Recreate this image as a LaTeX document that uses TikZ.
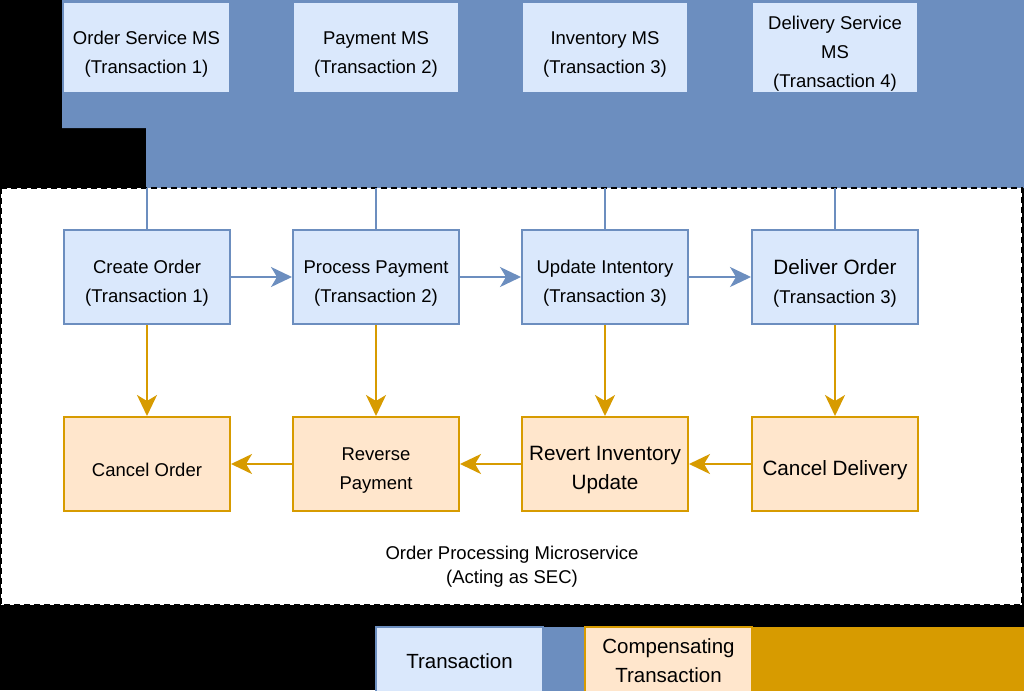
\documentclass[tikz,border=0pt]{standalone}
\usepackage{fontspec}
\setmainfont{Liberation Sans}
\usetikzlibrary{arrows.meta}
\definecolor{bstroke}{HTML}{6C8EBF}
\definecolor{bfill}{HTML}{DAE8FC}
\definecolor{ostroke}{HTML}{D79B00}
\definecolor{ofill}{HTML}{FFE6CC}
\newcommand{\mystrut}{\rule{0pt}{25.5pt}}
\newcommand{\mytopstrut}{\rule{0pt}{27.5pt}}
\newcommand{\mybigstrut}{\rule{0pt}{27.1pt}}
\tikzset{
  basebox/.style={line width=2pt, minimum width=166pt, minimum height=94pt, align=center, inner sep=0pt, text=black, font=\fontsize{18.5}{29}\selectfont},
  tbox/.style={basebox, draw=bstroke, fill=bfill},
  cbox/.style={basebox, draw=ostroke, fill=ofill},
  bigtxt/.style={font=\fontsize{20.7}{29}\selectfont},
  barrow/.style={draw=bstroke, line width=2pt, -{Stealth[length=21pt,width=20pt,inset=6pt]}},
  oarrow/.style={draw=ostroke, line width=2pt, -{Stealth[length=21pt,width=20pt,inset=6pt]}},
  bline/.style={draw=bstroke, line width=1.8pt},
}
\begin{document}
\begin{tikzpicture}[x=1pt,y=-1pt]
\useasboundingbox (0,0) rectangle (1024,690);
\clip (0,0) rectangle (1024,690);
% background
\fill[black] (0,0) rectangle (1024,690);
\fill[bstroke] (62,0) -- (1024,0) -- (1024,188) -- (146,188) -- (146,128) -- (62,128) -- cycle;
% dashed container
\draw[black, fill=white, line width=2pt, dash pattern=on 6pt off 4pt] (1,188) rectangle (1022,605);
% top service boxes
\node[tbox, minimum height=91pt, line width=1.2pt] (oms) at (146.5,47.5) {\mytopstrut Order Service MS\\(Transaction 1)};
\node[tbox, minimum height=91pt, line width=1.2pt] (pms) at (376,47.5) {\mytopstrut Payment MS\\(Transaction 2)};
\node[tbox, minimum height=91pt, line width=1.2pt] (ims) at (605,47.5) {\mytopstrut Inventory MS\\(Transaction 3)};
\node[tbox, minimum height=91pt, line width=1.2pt] (dms) at (835,47.5) {\mystrut Delivery Service\\MS\\(Transaction 4)};
% transactions
\node[tbox] (create) at (147,277) {\mystrut Create Order\\(Transaction 1)};
\node[tbox] (pay) at (376,277) {\mystrut Process Payment\\(Transaction 2)};
\node[tbox] (inv) at (605,277) {\mystrut Update Intentory\\(Transaction 3)};
\node[tbox] (del) at (835,277) {{\fontsize{20.7}{29}\selectfont\mybigstrut Deliver Order}\\(Transaction 3)};
% compensating
\node[cbox] (ccancel) at (147,464) {\mystrut Cancel Order};
\node[cbox] (crev) at (376,464) {\mystrut Reverse\\Payment};
\node[cbox, bigtxt] (cinv) at (605,464) {\mybigstrut Revert Inventory\\Update};
\node[cbox, bigtxt] (cdel) at (835,464) {\mybigstrut Cancel Delivery};
% links from the blue band
\coordinate (t1) at (147,188);
\coordinate (t2) at (376,188);
\coordinate (t3) at (605,188);
\coordinate (t4) at (835,188);
\draw[bline] (t1) -- (create.north);
\draw[bline] (t2) -- (pay.north);
\draw[bline] (t3) -- (inv.north);
\draw[bline] (t4) -- (del.north);
% forward arrows
\draw[barrow] (create.east) -- (pay.west);
\draw[barrow] (pay.east) -- (inv.west);
\draw[barrow] (inv.east) -- (del.west);
% down arrows
\draw[oarrow] (create.south) -- (ccancel.north);
\draw[oarrow] (pay.south) -- (crev.north);
\draw[oarrow] (inv.south) -- (cinv.north);
\draw[oarrow] (del.south) -- (cdel.north);
% back arrows
\draw[oarrow] (cdel.west) -- (cinv.east);
\draw[oarrow] (cinv.west) -- (crev.east);
\draw[oarrow] (crev.west) -- (ccancel.east);
% container label
\node[align=center, font=\fontsize{18.5}{24}\selectfont] (sec) at (512,567) {Order Processing Microservice\\(Acting as SEC)};
% legend
\fill[bstroke] (543,627) rectangle (586,695);
\fill[ostroke] (752,627) rectangle (1030,695);
\node[tbox, minimum width=167pt, minimum height=68pt, font=\fontsize{20.5}{29}\selectfont] (lt) at (459.5,661) {Transaction};
\node[cbox, minimum width=167pt, minimum height=68pt, font=\fontsize{20.5}{29}\selectfont] (lc) at (668.5,661) {Compensating\\Transaction};
\end{tikzpicture}
\end{document}
